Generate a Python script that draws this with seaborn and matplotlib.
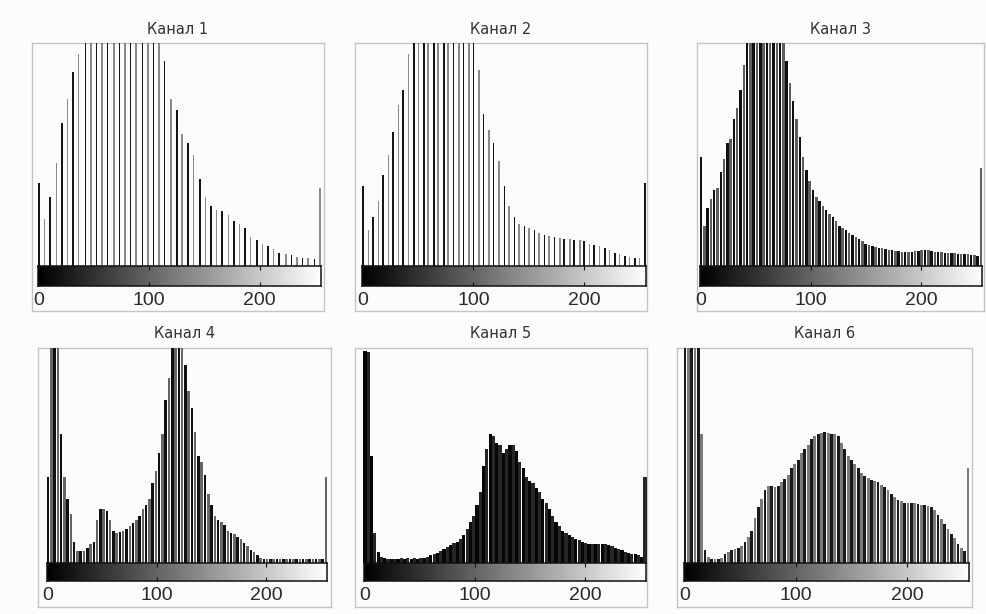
import numpy as np
import pandas as pd
import matplotlib
matplotlib.use("Agg")
import matplotlib.pyplot as plt
import seaborn as sns

# ---------------- data ----------------
titles = ["Канал 1", "Канал 2", "Канал 3", "Канал 4", "Канал 5", "Канал 6"]
tick_values = [0, 100, 200]
tick_labels = ["0", "100", "200"]

ch1_levels = [0, 5, 10, 16, 21, 26, 31, 36, 42, 47, 52, 57, 62, 68, 73, 78, 83, 88, 94, 99,
              104, 109, 114, 120, 125, 130, 135, 140, 146, 151, 156, 161, 166, 172, 177, 182,
              187, 192, 198, 203, 208, 213, 218, 224, 229, 234, 239, 244, 250, 255]
ch1_counts = [0.37, 0.21, 0.31, 0.46, 0.64, 0.75, 0.87, 0.95, 1.20, 1.30,
              1.40, 1.50, 1.50, 1.55, 1.50, 1.50, 1.45, 1.40, 1.35, 1.30,
              1.25, 1.15, 0.92, 0.75, 0.70, 0.59, 0.55, 0.50, 0.39, 0.31,
              0.27, 0.25, 0.245, 0.23, 0.20, 0.19, 0.17, 0.13, 0.115, 0.10,
              0.09, 0.075, 0.06, 0.052, 0.048, 0.042, 0.038, 0.034, 0.03, 0.35]

ch2_levels = [0, 5, 9, 14, 18, 23, 27, 32, 36, 41, 46, 50, 55, 59, 64, 68, 73, 77, 82, 87,
              91, 96, 100, 105, 109, 114, 118, 123, 128, 132, 137, 141, 146, 150, 155, 159,
              164, 168, 173, 178, 182, 187, 191, 196, 200, 205, 209, 214, 219, 223, 228, 232,
              237, 241, 246, 250, 255]
ch2_counts = [0.36, 0.16, 0.22, 0.29, 0.41, 0.50, 0.60, 0.72, 0.79, 0.95,
              1.20, 1.30, 1.35, 1.40, 1.45, 1.50, 1.50, 1.45, 1.40, 1.35,
              1.30, 1.20, 1.10, 0.88, 0.68, 0.61, 0.55, 0.47, 0.36, 0.27,
              0.22, 0.19, 0.18, 0.17, 0.16, 0.15, 0.14, 0.135, 0.13, 0.125,
              0.12, 0.12, 0.115, 0.115, 0.11, 0.10, 0.095, 0.09, 0.08, 0.07,
              0.06, 0.055, 0.045, 0.04, 0.035, 0.035, 0.37]

dense_levels = [0, 3, 6, 9, 12, 15, 18, 21, 24, 27, 30, 33, 36, 39, 42, 45, 48, 51, 54, 57,
                60, 63, 66, 69, 72, 75, 78, 81, 84, 87, 90, 93, 96, 99, 102, 105, 108, 111,
                114, 117, 120, 123, 126, 129, 132, 135, 138, 141, 144, 147, 150, 153, 156,
                159, 162, 165, 168, 171, 174, 177, 180, 183, 186, 189, 192, 195, 198, 201,
                204, 207, 210, 213, 216, 219, 222, 225, 228, 231, 234, 237, 240, 243, 246,
                249, 252, 255]

ch3_counts = [0.49, 0.18, 0.26, 0.30, 0.34, 0.35, 0.42, 0.48, 0.55, 0.57,
              0.66, 0.71, 0.79, 0.90, 1.10, 1.20, 1.30, 1.40, 1.50, 1.55,
              1.60, 1.55, 1.50, 1.40, 1.30, 1.15, 0.92, 0.82, 0.74, 0.66,
              0.58, 0.49, 0.43, 0.38, 0.34, 0.31, 0.29, 0.27, 0.25, 0.235,
              0.22, 0.20, 0.18, 0.17, 0.16, 0.15, 0.14, 0.13, 0.12, 0.11,
              0.10, 0.095, 0.09, 0.085, 0.08, 0.08, 0.075, 0.07, 0.07, 0.068,
              0.066, 0.065, 0.065, 0.064, 0.065, 0.066, 0.068, 0.07, 0.072, 0.07,
              0.068, 0.065, 0.064, 0.062, 0.06, 0.06, 0.058, 0.057, 0.056, 0.055,
              0.054, 0.052, 0.05, 0.048, 0.045, 0.44]

ch4_counts = [0.40, 1.30, 1.50, 1.40, 0.60, 0.40, 0.30, 0.23, 0.10, 0.055,
              0.055, 0.055, 0.07, 0.09, 0.10, 0.20, 0.25, 0.25, 0.24, 0.20,
              0.15, 0.14, 0.145, 0.15, 0.16, 0.17, 0.185, 0.20, 0.22, 0.25,
              0.27, 0.30, 0.37, 0.43, 0.51, 0.60, 0.76, 0.86, 1.20, 1.40,
              1.45, 1.30, 0.92, 0.80, 0.72, 0.61, 0.50, 0.47, 0.41, 0.32,
              0.27, 0.22, 0.20, 0.19, 0.175, 0.15, 0.14, 0.135, 0.12, 0.11,
              0.095, 0.08, 0.06, 0.05, 0.035, 0.025, 0.02, 0.019, 0.018, 0.02,
              0.018, 0.019, 0.02, 0.018, 0.019, 0.02, 0.018, 0.019, 0.02, 0.018,
              0.019, 0.02, 0.018, 0.019, 0.02, 0.40]

ch5_counts = [0.985, 0.98, 0.50, 0.14, 0.05, 0.03, 0.025, 0.02, 0.02, 0.02,
              0.02, 0.021, 0.02, 0.021, 0.02, 0.021, 0.02, 0.021, 0.022, 0.03,
              0.035, 0.04, 0.048, 0.055, 0.065, 0.075, 0.085, 0.095, 0.10, 0.11,
              0.13, 0.16, 0.19, 0.22, 0.27, 0.33, 0.45, 0.53, 0.60, 0.59,
              0.56, 0.55, 0.51, 0.53, 0.55, 0.55, 0.52, 0.47, 0.44, 0.40,
              0.38, 0.37, 0.35, 0.33, 0.30, 0.28, 0.25, 0.22, 0.19, 0.17,
              0.15, 0.14, 0.13, 0.12, 0.11, 0.105, 0.10, 0.095, 0.09, 0.09,
              0.09, 0.09, 0.09, 0.088, 0.085, 0.08, 0.072, 0.065, 0.06, 0.052,
              0.046, 0.042, 0.04, 0.035, 0.03, 0.40]

ch6_counts = [1.30, 1.50, 1.40, 1.30, 1.10, 0.60, 0.06, 0.03, 0.02, 0.02,
              0.02, 0.025, 0.04, 0.05, 0.06, 0.065, 0.07, 0.08, 0.10, 0.12,
              0.15, 0.21, 0.26, 0.30, 0.34, 0.36, 0.36, 0.355, 0.36, 0.375,
              0.39, 0.41, 0.44, 0.46, 0.48, 0.51, 0.53, 0.55, 0.575, 0.59,
              0.60, 0.605, 0.61, 0.605, 0.60, 0.60, 0.59, 0.56, 0.53, 0.50,
              0.48, 0.46, 0.44, 0.42, 0.405, 0.395, 0.385, 0.38, 0.375, 0.365,
              0.355, 0.34, 0.32, 0.305, 0.295, 0.29, 0.28, 0.28, 0.28, 0.278,
              0.275, 0.27, 0.27, 0.265, 0.26, 0.245, 0.225, 0.205, 0.18, 0.16,
              0.135, 0.115, 0.09, 0.07, 0.055, 0.44]

channels = [
    (ch1_levels, ch1_counts),
    (ch2_levels, ch2_counts),
    (dense_levels, ch3_counts),
    (dense_levels, ch4_counts),
    (dense_levels, ch5_counts),
    (dense_levels, ch6_counts),
]

# ---------------- style / layout ----------------
sns.set_style("white")
plt.rcParams["font.family"] = ["DejaVu Sans"]

W, H = 987, 614
BG = "#fcfcfc"
fig = plt.figure(figsize=(W / 100, H / 100), dpi=100)
fig.patch.set_facecolor(BG)


def rect(l, t, r, b):
    return [l / W, 1 - b / H, (r - l) / W, (b - t) / H]


# pixel geometry: x of level 0, x of level 255, frame left, frame right, row
panel_geo = [
    (39, 320, 32, 324, 0),
    (363, 645, 355, 647, 0),
    (701, 981, 697, 984, 0),
    (48, 326, 38, 331, 1),
    (365, 645, 355, 647, 1),
    (685, 968, 677, 972, 1),
]
row_geo = [
    dict(top=43, cb_top=266, cb_bot=286, bot=311, title_y=30),
    dict(top=348, cb_top=563, cb_bot=581, bot=607, title_y=334),
]
# bar width (in grey levels) and two alternating shades per panel
bar_style = [
    (1.4, "#151515", "#8a8a8a"),
    (1.4, "#151515", "#8a8a8a"),
    (2.2, "#101010", "#5e5e5e"),
    (2.3, "#101010", "#666666"),
    (2.9, "#050505", "#262626"),
    (2.5, "#1a1a1a", "#7a7a7a"),
]

gradient = np.linspace(0, 255, 256)[None, :]

for i, ((levels, counts), title) in enumerate(zip(channels, titles)):
    x0, x255, fl, fr, r = panel_geo[i]
    rg = row_geo[r]
    width, dark, light = bar_style[i]

    # outer light frame
    fax = fig.add_axes(rect(fl, rg["top"], fr, rg["bot"]))
    fax.set_xticks([])
    fax.set_yticks([])
    fax.patch.set_alpha(0)
    for sp in fax.spines.values():
        sp.set_color("#c4c4c4")
        sp.set_linewidth(1.0)

    # histogram axes
    ax = fig.add_axes(rect(fl, rg["top"], fr, rg["cb_top"]))
    ax.patch.set_alpha(0)
    df = pd.DataFrame({"level": levels, "count": counts})
    df["shade"] = np.where(np.arange(len(df)) % 2 == 0, "a", "b")
    sns.histplot(data=df, x="level", weights="count", hue="shade",
                 palette={"a": dark, "b": light}, discrete=True, shrink=width,
                 element="bars", fill=True, linewidth=0, alpha=1,
                 multiple="layer", legend=False, ax=ax)
    scale = (x255 - x0) / 255.0
    ax.set_xlim(-(x0 - fl) / scale, 255 + (fr - x255) / scale)
    ax.set_ylim(0, 1)
    ax.set_xticks([])
    ax.set_yticks([])
    ax.set_xlabel("")
    ax.set_ylabel("")
    for sp in ax.spines.values():
        sp.set_visible(False)

    # grey-level colour bar
    cax = fig.add_axes(rect(x0 - 1, rg["cb_top"], x255 + 1, rg["cb_bot"]))
    cax.imshow(gradient, cmap="gray", aspect="auto", vmin=0, vmax=255,
               extent=(-0.5, 255.5, 0, 1), interpolation="bilinear")
    cax.set_xlim(-0.5, 255.5)
    cax.set_ylim(0, 1)
    cax.set_yticks([])
    cax.set_xticks(tick_values)
    cax.set_xticklabels(tick_labels, family="Liberation Sans", fontsize=14, color="#2a2a2a")
    cax.tick_params(axis="x", direction="in", length=3, width=0.8, top=True,
                    bottom=True, pad=4, color="#111111")
    for sp in cax.spines.values():
        sp.set_color("#111111")
        sp.set_linewidth(1.1)

    fig.text(((fl + fr) / 2) / W, 1 - rg["title_y"] / H, title, ha="center",
             va="center", fontsize=10.5, color="#333333")

fig.savefig("out.png", dpi=100, facecolor=BG)
